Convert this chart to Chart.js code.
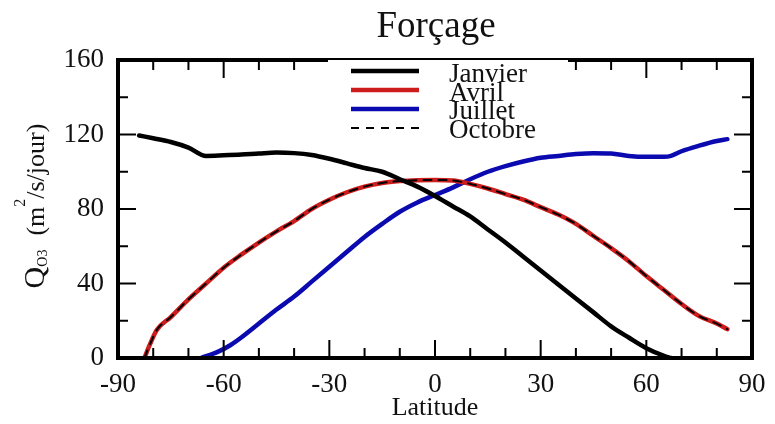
<!DOCTYPE html>
<html>
<head>
<meta charset="utf-8">
<script src="https://cdn.jsdelivr.net/npm/chart.js@4/dist/chart.umd.min.js"></script>
<style>
  body { margin: 0; background: #fff; }
</style>
</head>
<body>
<canvas id="chart" width="775" height="424"></canvas>
<script>
// Forcing profiles by latitude, one per month
const janLat = [-84, -80, -75, -70, -65, -60, -55, -50, -45, -40, -35, -30, -25, -20, -15, -10, -5, 0, 5, 10, 15, 20, 25, 30, 35, 40, 45, 50, 55, 60, 65, 67];
const janVal = [119.5, 118, 116, 113, 108.5, 108.8, 109.2, 109.8, 110.3, 110, 109, 107, 104.5, 102, 100, 96, 92, 87, 81.5, 76, 69, 62, 54.5, 47, 39.5, 32, 24.5, 17, 11, 5.3, 1.2, 0];

const avrLat = [-82.5, -81, -79, -75, -70, -65, -60, -55, -50, -45, -40, -35, -30, -25, -20, -15, -10, -5, 0, 5, 10, 15, 20, 25, 30, 35, 40, 45, 50, 55, 60, 65, 70, 75, 80, 83];
const avrVal = [0, 7, 15, 22, 31.5, 40, 48.5, 55.5, 62, 68, 73.5, 80, 85, 89, 92, 94, 95, 95.5, 95.6, 95.3, 93.5, 91, 88, 85, 81, 77, 72, 65.5, 59, 52, 44, 36.5, 29, 22.5, 18.5, 15.5];

const julLat = [-66.5, -62, -58, -55, -50, -45, -40, -35, -30, -25, -20, -15, -10, -5, 0, 5, 10, 15, 20, 25, 30, 35, 40, 45, 50, 55, 60, 65, 67, 70, 75, 80, 83];
const julVal = [0, 3, 7, 11, 18.5, 26, 33, 41, 49, 57, 65, 72, 78.5, 83.5, 87.5, 91.5, 96, 100, 103, 105.5, 107.5, 108.5, 109.5, 110, 109.8, 108.5, 108, 108, 108.5, 111, 114, 116.5, 117.5];

const octLat = avrLat.slice();
const octVal = [0, 7, 15, 22, 31.5, 40, 48.5, 55.5, 62, 68, 73.5, 80, 85, 89, 92, 94, 95, 95.5, 95.6, 95.3, 93.5, 91, 88, 85, 81, 77, 72, 65.5, 59, 52, 44, 36.5, 29, 22.5, 18.5, 15.5];

const seriesNames = ['Janvier', 'Avril', 'Juillet', 'Octobre'];
const xTicks = [-90, -60, -30, 0, 30, 60, 90];
const yTicks = [0, 40, 80, 120, 160];

const SERIF = "'Liberation Serif', 'Times New Roman', serif";
const INK = '#111';

function toPoints(lat, val) {
    return lat.map((x, i) => ({ x: x, y: val[i] }));
}

// inward ticks on all four sides plus the heavy frame
function drawFrame(chart) {
    const ctx = chart.ctx;
    const { left, right, top, bottom } = chart.chartArea;
    const xs = chart.scales.x;
    const ys = chart.scales.y;

    ctx.save();
    ctx.strokeStyle = '#000';
    ctx.lineWidth = 2;
    ctx.beginPath();
    for (let v = -80; v <= 80; v += 10) {
        const px = xs.getPixelForValue(v);
        const len = xTicks.includes(v) ? 18 : 10;
        ctx.moveTo(px, bottom);
        ctx.lineTo(px, bottom - len);
        ctx.moveTo(px, top);
        ctx.lineTo(px, top + len);
    }
    for (let v = 20; v < 160; v += 20) {
        const py = ys.getPixelForValue(v);
        const len = yTicks.includes(v) ? 18 : 10;
        ctx.moveTo(left, py);
        ctx.lineTo(left + len, py);
        ctx.moveTo(right, py);
        ctx.lineTo(right - len, py);
    }
    ctx.stroke();

    ctx.lineWidth = 4;
    ctx.strokeRect(left, top, right - left, bottom - top);
    ctx.restore();
}

// legend box sits over the top of the frame
function drawLegend(chart) {
    const ctx = chart.ctx;
    const boxX = 328, boxY = chart.chartArea.top, boxW = 240, boxH = 82;
    ctx.save();
    ctx.fillStyle = '#fff';
    ctx.fillRect(boxX, boxY, boxW, boxH);

    ctx.font = '27px ' + SERIF;
    ctx.textBaseline = 'alphabetic';
    ctx.fillStyle = INK;
    chart.data.datasets.forEach((ds, i) => {
        const rowY = 71 + i * 19;
        ctx.strokeStyle = ds.borderColor;
        ctx.lineWidth = ds.borderWidth;
        ctx.setLineDash(ds.borderDash || []);
        ctx.beginPath();
        ctx.moveTo(351, rowY);
        ctx.lineTo(419, rowY);
        ctx.stroke();
        ctx.fillText(seriesNames[i], 449, 82 + i * 18.5);
    });
    ctx.restore();
}

function drawTexts(chart) {
    const ctx = chart.ctx;
    ctx.save();
    ctx.fillStyle = INK;

    // title
    ctx.font = '37px ' + SERIF;
    ctx.textAlign = 'center';
    ctx.textBaseline = 'alphabetic';
    ctx.fillText('Forçage', 436, 37);

    // y axis title with subscript and superscript, rotated
    const parts = [
        { t: 'Q', f: 30, dy: 0 },
        { t: 'O3', f: 14, dy: 3 },
        { t: '    ', f: 14, dy: 0 },
        { t: '(m', f: 26, dy: 0 },
        { t: '2', f: 16, dy: -19 },
        { t: '/s/jour)', f: 26, dy: 0 }
    ];
    ctx.textAlign = 'left';
    let total = 0;
    parts.forEach(p => {
        ctx.font = p.f + 'px ' + SERIF;
        p.w = ctx.measureText(p.t).width;
        total += p.w;
    });
    ctx.translate(44, 206);
    ctx.rotate(-Math.PI / 2);
    let x = -total / 2;
    parts.forEach(p => {
        ctx.font = p.f + 'px ' + SERIF;
        ctx.fillText(p.t, x, p.dy);
        x += p.w;
    });
    ctx.restore();
}

const frameAndLabels = {
    id: 'frameAndLabels',
    afterDraw(chart) {
        drawFrame(chart);
        drawLegend(chart);
        drawTexts(chart);
    }
};

const ctx = document.getElementById('chart').getContext('2d');
new Chart(ctx, {
    type: 'line',
    data: {
        datasets: [
            { label: seriesNames[0], data: toPoints(janLat, janVal), borderColor: '#000', borderWidth: 4.5, order: 1 },
            { label: seriesNames[1], data: toPoints(avrLat, avrVal), borderColor: '#cc1c1c', borderWidth: 4.5, order: 1 },
            { label: seriesNames[2], data: toPoints(julLat, julVal), borderColor: '#0a0ab0', borderWidth: 4.5, order: 1 },
            { label: seriesNames[3], data: toPoints(octLat, octVal), borderColor: '#000', borderWidth: 2, borderDash: [8, 7], order: 0 }
        ]
    },
    options: {
        responsive: false,
        animation: false,
        layout: { padding: { top: 60, right: 23, left: 0, bottom: 0 } },
        elements: {
            point: { radius: 0 },
            line: { cubicInterpolationMode: 'monotone', fill: false, borderCapStyle: 'round' }
        },
        plugins: {
            legend: { display: false },
            tooltip: { enabled: false }
        },
        scales: {
            x: {
                type: 'linear',
                min: -90,
                max: 90,
                grid: { display: false },
                border: { display: false },
                afterBuildTicks: scale => { scale.ticks = xTicks.map(v => ({ value: v })); },
                afterFit: scale => { scale.height = 66; },
                ticks: {
                    color: INK,
                    padding: 3,
                    maxRotation: 0,
                    font: { family: SERIF, size: 27 }
                },
                title: {
                    display: true,
                    text: 'Latitude',
                    color: INK,
                    padding: 0,
                    font: { family: SERIF, size: 26 }
                }
            },
            y: {
                min: 0,
                max: 160,
                grid: { display: false },
                border: { display: false },
                afterBuildTicks: scale => { scale.ticks = yTicks.map(v => ({ value: v })); },
                afterFit: scale => { scale.width = 118; },
                ticks: {
                    color: INK,
                    padding: 6,
                    font: { family: SERIF, size: 27 }
                }
            }
        }
    },
    plugins: [frameAndLabels]
});
</script>
</body>
</html>
